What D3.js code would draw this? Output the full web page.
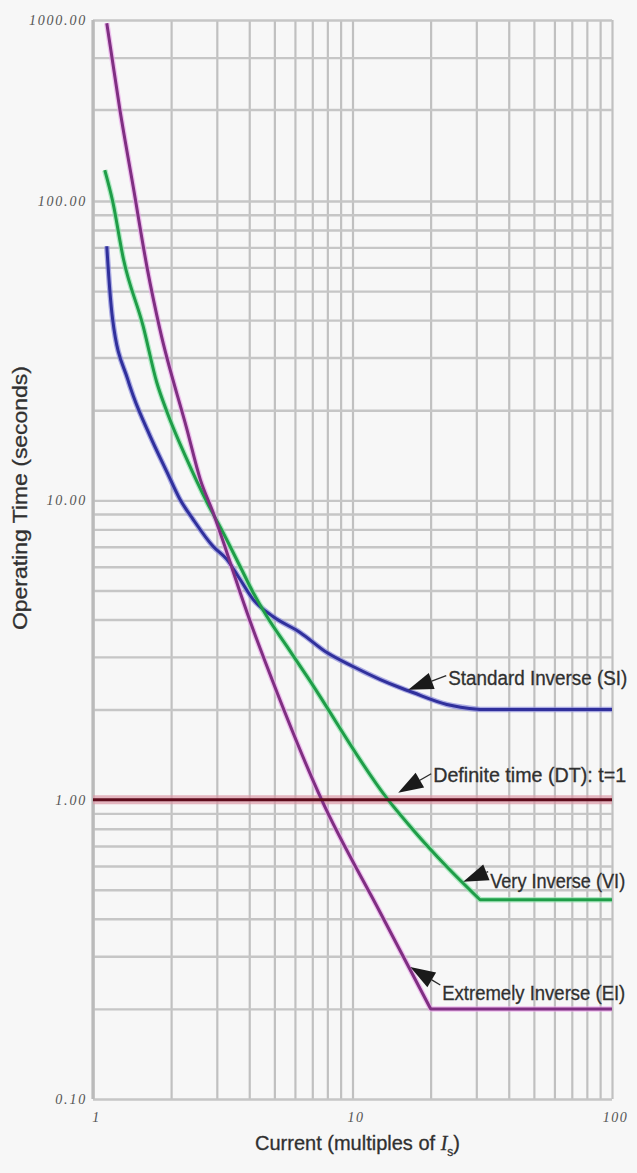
<!DOCTYPE html>
<html><head><meta charset="utf-8">
<script src="https://cdn.jsdelivr.net/npm/d3@7"></script>
<style>
html,body{margin:0;padding:0;background:#f7f7f7;}
svg{display:block;}
</style></head><body>
<svg id="chart" width="637" height="1173"></svg>
<script>
// ---------- data ----------
const xGridValues = [1,2,3,4,5,6,7,8,9,10,20,30,40,50,60,70,80,90,100];
const yGridValues = [0.1,0.2,0.3,0.4,0.5,0.6,0.7,0.8,0.9,1,2,3,4,5,6,7,8,9,10,20,30,40,50,60,70,80,90,100,320,620,1000];
const yTickValues = [0.1, 1, 10, 100, 1000];
const xTickValues = [1, 10, 100];

const siCurrent = [1.13, 1.16, 1.19, 1.36, 1.43, 1.66, 1.93, 2.16, 2.43, 2.90, 3.28, 3.69, 4.14, 4.94, 6.28, 7.97, 10.0, 12.8, 15.2, 17.1, 23.1, 31, 100];
const siTime    = [70.6, 50.8, 40.3, 25.4, 22.3, 16.4, 12.4, 10.1, 8.64, 7.02, 6.35, 5.44, 4.67, 4.09, 3.62, 3.10, 2.79, 2.52, 2.37, 2.28, 2.08, 2.0, 2.0];

const viCurrent = [1.11, 1.19, 1.31, 1.56, 1.76, 1.93, 2.30, 2.75, 3.17, 3.69, 4.14, 4.68, 5.59, 6.68, 13.7, 17.1, 23.1, 31, 100];
const viTime    = [148, 100, 64, 38.2, 24.8, 19.7, 13.7, 9.85, 7.81, 6.01, 4.92, 4.09, 3.25, 2.58, 1.0, 0.794, 0.597, 0.463, 0.463];

const eiCurrent = [1.13, 1.27, 1.43, 1.62, 1.81, 2.30, 2.59, 2.90, 3.28, 3.69, 4.14, 4.68, 7.6, 12.8, 20, 100];
const eiTime    = [960, 318, 119, 59.2, 37.3, 17.3, 11.75, 9.12, 6.70, 4.92, 3.70, 2.79, 1.0, 0.419, 0.2, 0.2];

const dtCurrent = [1, 100];
const dtTime    = [1, 1];

const labels     = ["Standard Inverse (SI)", "Definite time (DT): t=1", "Very Inverse (VI)", "Extremely Inverse (EI)"];
const labelTipI  = [16.4, 15.0, 26.7, 16.7];
const labelTipT  = [2.33, 1.055, 0.532, 0.276];

const yTitle = "Operating Time (seconds)";
const xTitle = "Current (multiples of ";

// ---------- layout / style ----------
const svg = d3.select("#chart");
const x = d3.scaleLog().domain([1, 100]).range([93, 612]);
const y = d3.scaleLog().domain([0.1, 100, 1000]).range([1099, 201, 20]);

const labelStyle = [
  {tail:[38,-14], text:[40,-5],  w:179},
  {tail:[33,-19], text:[35,-11], w:193},
  {tail:[25,-10], text:[27,6],   w:135},
  {tail:[30,18],  text:[32,33],  w:183}
];
const sans = "'Liberation Sans', Arial, sans-serif";
const serif = "'Liberation Serif', 'Times New Roman', serif";

// grid (vertical)
const gx = svg.append("g").attr("transform", `translate(0,${y(0.1)})`)
  .call(d3.axisBottom(x).tickValues(xGridValues).tickSize(-(y(0.1) - y(1000))).tickFormat(""));
gx.select(".domain").remove();
gx.selectAll("line").attr("stroke", "#c0c0c0").attr("stroke-width", 2.2);

// grid (horizontal)
const gy = svg.append("g").attr("transform", `translate(${x(1)},0)`)
  .call(d3.axisLeft(y).tickValues(yGridValues).tickSize(-(x(100) - x(1))).tickFormat(""));
gy.select(".domain").remove();
gy.selectAll("line").attr("stroke", "#c6c6c6").attr("stroke-width", 2.4);

// left axis line
svg.append("line").attr("x1", x(1)).attr("x2", x(1)).attr("y1", y(1000)).attr("y2", y(0.1))
  .attr("stroke", "#bababa").attr("stroke-width", 3.2);

// y tick labels
const ya = svg.append("g").attr("transform", `translate(${x(1)},0)`)
  .call(d3.axisLeft(y).tickValues(yTickValues).tickFormat(d3.format(".2f")).tickSize(0).tickPadding(6));
ya.select(".domain").remove();
ya.selectAll("text").attr("font-family", serif).attr("font-style", "italic")
  .attr("font-size", 14).attr("letter-spacing", "1.8px").attr("fill", "#555");

// x tick labels
const xa = svg.append("g").attr("transform", `translate(0,${y(0.1)})`)
  .call(d3.axisBottom(x).tickValues(xTickValues).tickFormat(d3.format("d")).tickSize(0).tickPadding(13));
xa.select(".domain").remove();
xa.selectAll("text").attr("font-family", serif).attr("font-style", "italic")
  .attr("font-size", 14).attr("letter-spacing", "1.5px").attr("fill", "#555").attr("dx", 3);

// curves: smooth (monotone) part up to the corner, straight flat part after it
const smooth = d3.line().x(d => x(d[0])).y(d => y(d[1])).curve(d3.curveMonotoneX);
const straight = d3.line().x(d => x(d[0])).y(d => y(d[1]));
const zip = (a, b) => a.map((v, i) => [v, b[i]]);
function curvePath(data) {
  const last = data[data.length - 1][1];
  let k = data.findIndex(d => d[1] === last);
  if (k <= 1) return straight(data);
  const head = smooth(data.slice(0, k + 1));
  const tail = data.slice(k + 1).map(d => `L${x(d[0])},${y(d[1])}`).join("");
  return head + tail;
}
const series = [
  {d: zip(siCurrent, siTime), core: "#30309c", halo: "#8c8cdc"},
  {d: zip(viCurrent, viTime), core: "#1f9d48", halo: "#90e2ac"},
  {d: zip(eiCurrent, eiTime), core: "#7f2f82", halo: "#e9a6e9"},
  {d: zip(dtCurrent, dtTime), core: "#5e0c1c", halo: "#dc98a6", hw: 9}
];
series.forEach(s => {
  svg.append("path").attr("d", curvePath(s.d)).attr("fill", "none")
    .attr("stroke", s.halo).attr("stroke-width", s.hw || 5.5).attr("stroke-linejoin", "round").attr("opacity", 0.7);
});
series.forEach(s => {
  svg.append("path").attr("d", curvePath(s.d)).attr("fill", "none")
    .attr("stroke", s.core).attr("stroke-width", 3).attr("stroke-linejoin", "round");
});

// annotations
labels.forEach((lab, i) => {
  const tx = x(labelTipI[i]), ty = y(labelTipT[i]);
  const st = labelStyle[i];
  const ex = tx + st.tail[0], ey = ty + st.tail[1];
  const len = Math.hypot(ex - tx, ey - ty);
  const ux = (ex - tx) / len, uy = (ey - ty) / len;
  const hl = 25, hw = 8.5;
  const bx = tx + ux * hl, by = ty + uy * hl;
  svg.append("line").attr("x1", bx).attr("y1", by).attr("x2", ex).attr("y2", ey)
    .attr("stroke", "#2a2a2a").attr("stroke-width", 1.3);
  svg.append("path")
    .attr("d", `M${tx},${ty}L${bx - uy * hw},${by + ux * hw}L${bx + uy * hw},${by - ux * hw}Z`)
    .attr("fill", "#1a1a1a");
  svg.append("text").attr("x", tx + st.text[0]).attr("y", ty + st.text[1])
    .attr("font-family", sans).attr("font-size", 19.5)
    .attr("fill", "#303030").attr("stroke", "#303030").attr("stroke-width", 0.3)
    .attr("textLength", st.w).attr("lengthAdjust", "spacingAndGlyphs")
    .text(lab);
});

// y title
svg.append("text").attr("transform", `translate(27,${(y(10) + y(1)) / 2 - 152}) rotate(-90)`)
  .attr("text-anchor", "middle").attr("font-family", sans)
  .attr("font-size", 20).attr("fill", "#303030").attr("stroke", "#303030").attr("stroke-width", 0.3)
  .attr("textLength", 264).attr("lengthAdjust", "spacingAndGlyphs")
  .text(yTitle);

// x title
const xt = svg.append("text").attr("x", 255).attr("y", 1150)
  .attr("font-family", sans).attr("font-size", 20)
  .attr("fill", "#303030").attr("stroke", "#303030").attr("stroke-width", 0.3);
xt.append("tspan").text(xTitle);
xt.append("tspan").attr("font-style", "italic").attr("font-family", serif).text("I");
xt.append("tspan").attr("font-size", 12).attr("dy", 6).text("s");
xt.append("tspan").attr("dy", -6).text(")");
</script>
</body></html>
